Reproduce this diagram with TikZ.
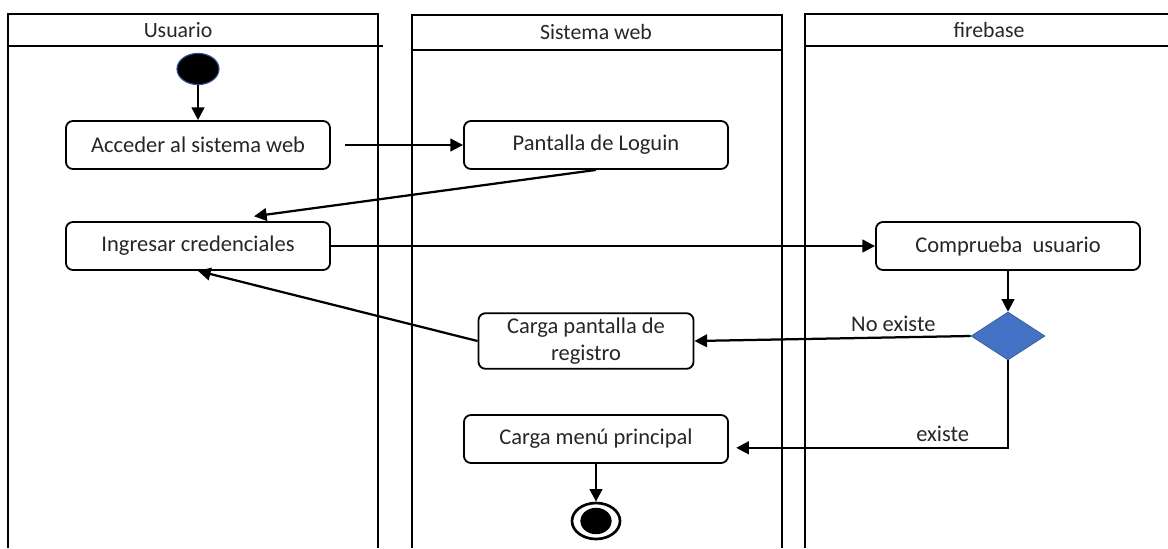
\documentclass[tikz,border=0pt]{standalone}
\usepackage{fontspec}
\setmainfont{Carlito}
\usepackage{tikz}
\usetikzlibrary{shapes.geometric,arrows.meta}
\definecolor{decblue}{HTML}{4472C4}
\definecolor{decedge}{HTML}{2F528F}
\tikzset{
  lane/.style={line width=1.6pt},
  lanetitle/.style={font=\fontsize{15.5}{18}\selectfont, text=black!85},
  activity/.style={draw, rounded corners=5pt, line width=1.3pt, minimum width=6.6cm,
    minimum height=1.2cm, align=center, text=black!85,
    font=\fontsize{16}{19}\selectfont},
  decision/.style={diamond, fill=decblue, draw=decedge, line width=0.4pt, inner sep=0pt,
    minimum width=1.85cm, minimum height=1.2cm, aspect=1.55},
  initial/.style={ellipse, fill=black, draw=decedge, line width=0.8pt, inner sep=0pt,
    minimum width=1.05cm, minimum height=0.78cm},
  final/.style={ellipse, draw, fill=white, line width=1.9pt, inner sep=0pt,
    minimum width=1.2cm, minimum height=0.9cm,
    path picture={\fill[black] (path picture bounding box.center) ellipse [x radius=0.39cm, y radius=0.33cm];}},
  flow/.style={-{Triangle[length=9pt,width=9pt]}, line width=1.6pt},
  guard/.style={font=\fontsize{16}{19}\selectfont, text=black!85}
}

\begin{document}
\begin{tikzpicture}[x=0.025cm, y=-0.025cm]
  \useasboundingbox (0,0) rectangle (1168,548);

  % Draw the lanes
  \draw[lane] (8,548) -- (8,14) -- (378,14) -- (378,548);
  \draw[lane] (8,46) -- (383,46);
  \draw[lane] (412,548) -- (412,15) -- (782,15) -- (782,548);
  \draw[lane] (412,50) -- (782,50);
  \draw[lane] (805,548) -- (805,14) -- (1175,14);
  \draw[lane] (805,46) -- (1175,46);
  \node[lanetitle] (hUsuario) at (178,30) {Usuario};
  \node[lanetitle] (hWeb) at (596,32) {Sistema web};
  \node[lanetitle] (hFire) at (989,30) {firebase};

  % Activities
  \node[initial] (start) at (198,69) {};
  \node[activity] (acc) at (198,145) {Acceder al sistema web};
  \node[activity] (login) at (596,145) {Pantalla de Loguin};
  \node[activity] (ing) at (198,246) {Ingresar credenciales};
  \node[activity] (comp) at (1008,246) {Comprueba~ usuario};
  \node[decision] (dec) at (1008,336) {};
  \node[activity, minimum width=5.375cm] (reg) at (586,341) {Carga pantalla de\\registro};
  \node[activity] (menu) at (596,439) {Carga menú principal};
  \node[final] (end) at (596,521) {};

  % Transitions
  \draw[flow] (start) -- (acc);
  \draw[flow, shorten <=10pt] (acc.east) -- (login.west);
  \draw[flow] (login.south) -- ([xshift=1.4cm, yshift=0.12cm]ing.north);
  \draw[flow] (ing.east) -- (comp.west);
  \draw[flow] (comp.south) -- (dec.north);
  \draw[flow] (dec.west) -- node[guard, pos=0.28, above] {No existe} (reg.east);
  \draw[flow] (reg.west) -- (ing.south);
  \draw[flow] (dec.south) |- node[guard, pos=0.62, above] {existe} ([xshift=0.18cm, yshift=-0.22cm]menu.east);
  \draw[flow] (menu.south) -- (end.north);
\end{tikzpicture}
\end{document}
